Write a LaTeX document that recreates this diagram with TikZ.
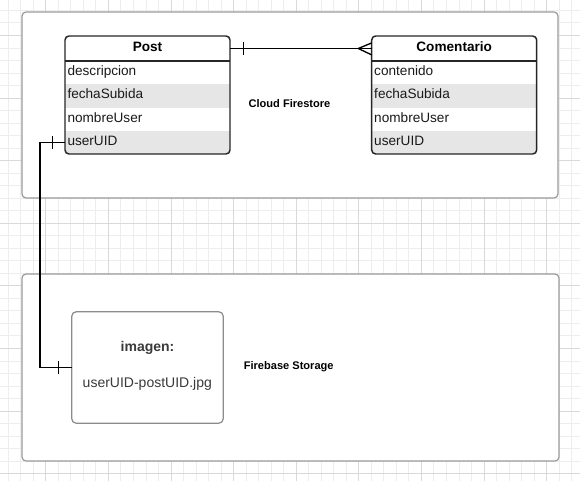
\documentclass[tikz,border=0pt]{standalone}
\usepackage{fontspec}
\setmainfont{Liberation Sans}
\usetikzlibrary{calc}
\definecolor{gridminor}{HTML}{EDEDED}
\definecolor{gridmajor}{HTML}{D9D9D9}
\definecolor{rowgray}{HTML}{E6E6E6}
\definecolor{frame}{HTML}{9A9A9A}
\definecolor{tabline}{HTML}{262626}
\definecolor{txt}{HTML}{1A1A1A}
\definecolor{imgtxt}{HTML}{3A3A3A}
\begin{document}
\begin{tikzpicture}[x=0.75pt,y=-0.75pt,
  container/.style={draw=frame, line width=0.9pt, fill=white, rounded corners=3pt,
    rectangle, inner sep=0pt, outer sep=0pt, anchor=north west},
  tabframe/.style={draw=tabline, line width=1.1pt, rounded corners=3pt,
    rectangle, inner sep=0pt, outer sep=0pt, anchor=north west,
    minimum width=123.75pt, minimum height=88.5pt},
  hdr/.style={rectangle, anchor=north west, inner sep=0pt, outer sep=0pt,
    minimum width=123.75pt, minimum height=18.75pt, text height=8.25pt, text depth=3.75pt,
    font=\fontsize{10.2}{12}\selectfont\bfseries, text=black},
  row/.style={rectangle, anchor=north west, inner xsep=1.9pt, inner ysep=0pt, outer sep=0pt,
    text width=119.95pt, align=left, minimum height=17.44pt,
    text height=8.25pt, text depth=3.75pt,
    font=\fontsize{10.2}{12}\selectfont, text=txt},
  grayrow/.style={row, fill=rowgray},
  conn/.style={draw=black, line width=1pt},
  lbl/.style={font=\fontsize{8.3}{10}\selectfont\bfseries, text=black, anchor=base, inner sep=0pt},
  imgbox/.style={draw=frame!90!black, line width=0.9pt, fill=white, rounded corners=3.5pt,
    rectangle, inner sep=0pt, outer sep=0pt, anchor=north west,
    minimum width=113.7pt, minimum height=83.7pt},
  imgtext/.style={font=\fontsize{10.5}{12}\selectfont, text=imgtxt, anchor=base, inner sep=0pt}
]
\useasboundingbox (0,0) rectangle (580,481);
\fill[white] (0,0) rectangle (580,481);
% grid
\foreach \i in {0,...,46} {\draw[gridminor, line width=0.75pt] ({8.3+12.52*\i},0) -- ({8.3+12.52*\i},481);}
\foreach \i in {0,...,37} {\draw[gridminor, line width=0.75pt] (0,{10.46+12.52*\i}) -- (580,{10.46+12.52*\i});}
\foreach \i in {0,...,8} {\draw[gridmajor, line width=0.75pt] ({45.86+62.6*\i},0) -- ({45.86+62.6*\i},481);}
\foreach \i in {0,...,7} {\draw[gridmajor, line width=0.75pt] (0,{35.5+62.6*\i}) -- (580,{35.5+62.6*\i});}

% containers
\node[container, minimum width=402pt, minimum height=139.5pt] (firestore) at (22,12) {};
\node[container, minimum width=402.75pt, minimum height=140.25pt] (storage) at (22,274) {};

\node[lbl] (cloudlbl) at (289.5,107.3) {Cloud Firestore};
\node[lbl] (storelbl) at (288.7,369.3) {Firebase Storage};

% Post table
\fill[white] (65,36) rectangle (230,154);
\begin{scope}
\clip[rounded corners=3pt] (65,36) rectangle (230,154);
\node[hdr] (posth) at (65,36) {Post};
\node[row] (pd) at (65,61) {descripcion};
\node[grayrow] (pf) at (pd.south west) {fechaSubida};
\node[row] (pn) at (pf.south west) {nombreUser};
\node[grayrow] (pu) at (pn.south west) {userUID};
\end{scope}
\draw[tabline, line width=1.1pt] (posth.south west) -- (posth.south east);
\node[tabframe] (post) at (65,36) {};

% Comentario table
\fill[white] (371.7,36) rectangle (536.7,154);
\begin{scope}
\clip[rounded corners=3pt] (371.7,36) rectangle (536.7,154);
\node[hdr] (comh) at (371.7,36) {Comentario};
\node[row] (cc) at (371.7,61) {contenido};
\node[grayrow] (cf) at (cc.south west) {fechaSubida};
\node[row] (cn) at (cf.south west) {nombreUser};
\node[grayrow] (cu) at (cn.south west) {userUID};
\end{scope}
\draw[tabline, line width=1.1pt] (comh.south west) -- (comh.south east);
\node[tabframe] (comentario) at (371.7,36) {};

% imagen box
\node[imgbox] (img) at (71.7,311.7) {};
\node[imgtext, font=\fontsize{10.5}{12}\selectfont\bfseries] (imgtitle) at (147.5,351.2) {imagen:};
\node[imgtext] (imgname) at (147.3,387.2) {userUID-postUID.jpg};

% Post -- Comentario (one to many)
\draw[conn] (posth.east) -- (comh.west);
\draw[conn] ($(posth.east)+(13.3,-6.3)$) -- ++(0,12.6);
\draw[conn] ($(comh.west)+(-13.4,0)$) -- ($(comh.west)+(0,-5.6)$);
\draw[conn] ($(comh.west)+(-13.4,0)$) -- ($(comh.west)+(0,6.4)$);

% Post.userUID -- imagen (one to one)
\coordinate (bend) at (40,0);
\draw[conn] (pu.west) -- (pu.west -| bend) |- (img.west);
\draw[conn] ($(pu.west)+(-12.7,-6.3)$) -- ++(0,12.6);
\draw[conn] ($(img.west)+(-13.4,-6.3)$) -- ++(0,12.6);
\end{tikzpicture}
\end{document}
